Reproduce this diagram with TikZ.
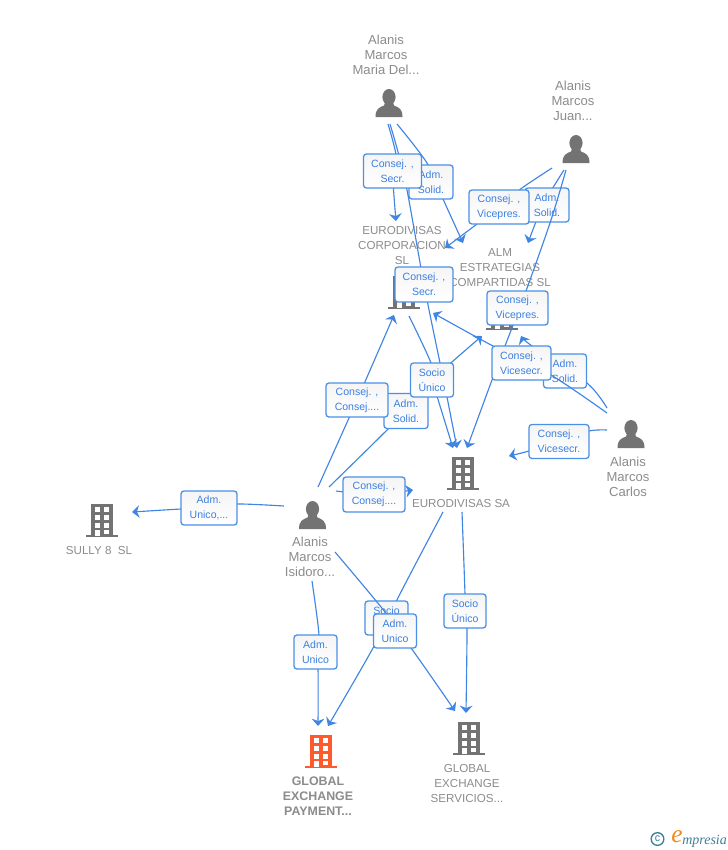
\documentclass[tikz,border=0pt]{standalone}
\usepackage{fontspec}
\setmainfont{Liberation Sans}
\newfontfamily\logofont{Liberation Serif}
\usetikzlibrary{arrows.meta}
\definecolor{edgeblue}{HTML}{3F85E3}
\definecolor{boxblue}{HTML}{4A90E6}
\definecolor{labblue}{HTML}{3B7FE0}
\definecolor{txtgray}{HTML}{8C8C8C}
\definecolor{icongray}{HTML}{737373}
\definecolor{iconorange}{HTML}{FF5A2B}
\definecolor{logoteal}{HTML}{3D7F9A}
\definecolor{logoorange}{HTML}{F08A1D}
\tikzset{
  conn/.style={draw=edgeblue,line width=0.85pt,line join=round},
  tipped/.style={conn,-{Stealth[length=5.5pt,width=9.5pt,inset=1.8pt]}},
  lbl/.style={draw=boxblue,line width=0.95pt,rounded corners=2.2pt,top color=black!4,bottom color=white,
    text=labblue,align=center,font=\fontsize{7.9}{11.25}\selectfont,inner sep=0pt,anchor=center},
  entname/.style={text=txtgray,align=center,font=\fontsize{8.7}{11.25}\selectfont,inner sep=0pt,anchor=center},
  persname/.style={entname,font=\fontsize{9.8}{11.25}\selectfont},
  pics/bld/.style={code={
    \fill[#1] (-16,-2) rectangle (16,0);
    \fill[#1] (-11,-33) rectangle (11,0);
    \foreach \yy in {3,11,19}{
      \fill[white] (-7,-33+\yy) rectangle (-2,-33+\yy+4.5);
      \fill[white] (2,-33+\yy) rectangle (7,-33+\yy+4.5);}
    \fill[white] (-7,-7) rectangle (-2,-1.5);
    \fill[white] (2,-7) rectangle (7,-3);
  }},
  pics/pers/.style={code={
    \fill[icongray] (0,-6) ellipse (6.6 and 8);
    \fill[icongray] (-13.5,14) -- (13.5,14) .. controls (13.5,6) and (10,4.5) .. (5,2.5)
      -- (3.5,-2) -- (-3.5,-2) -- (-5,2.5) .. controls (-10,4.5) and (-13.5,6) .. (-13.5,14) -- cycle;
  }}
}
\begin{document}
\begin{tikzpicture}[x=0.75pt,y=-0.75pt]
\useasboundingbox (0,0) rectangle (728,850);
\fill[white] (0,0) rectangle (728,850);

% building and person icons
\pic at (404,309) {bld=icongray};
\pic at (502,330) {bld=icongray};
\pic at (463,490) {bld=icongray};
\pic at (101.5,537) {bld=icongray};
\pic at (321,768) {bld=iconorange};
\pic at (469,755) {bld=icongray};
\pic at (389,103) {pers};
\pic at (576,149) {pers};
\pic at (312.5,515) {pers};
\pic at (631,434) {pers};

% entity names
\node[persname] (maria) at (386,55) {Alanis\\Marcos\\Maria Del...};
\node[persname] (juan) at (573,101) {Alanis\\Marcos\\Juan...};
\node[entname] (corp) at (402,246) {EURODIVISAS\\CORPORACION\\SL};
\node[entname] (alm) at (500,268) {ALM\\ESTRATEGIAS\\COMPARTIDAS SL};
\node[entname] (sa) at (461,503) {EURODIVISAS SA};
\node[persname] (carlos) at (628,477) {Alanis\\Marcos\\Carlos};
\node[persname] (isidoro) at (310,557) {Alanis\\Marcos\\Isidoro...};
\node[entname] (sully) at (99,550) {SULLY 8\ \ SL};
\node[entname,font=\fontsize{9.3}{11.25}\selectfont\bfseries] (payment) at (318,796) {GLOBAL\\EXCHANGE\\PAYMENT...};
\node[entname] (servicios) at (467,783) {GLOBAL\\EXCHANGE\\SERVICIOS...};

% connector ends
\coordinate (mA) at (388,124);
\coordinate (mB) at (390,124);
\coordinate (mC) at (397,124);
\coordinate (jA) at (552,168);
\coordinate (jB) at (564,170);
\coordinate (jC) at (566,170);
\coordinate (cA) at (607,408);
\coordinate (cB) at (607,413);
\coordinate (cC) at (607,430);
\coordinate (iA) at (318,487);
\coordinate (iB) at (329,487);
\coordinate (iC) at (336,491);
\coordinate (iD) at (284,506);
\coordinate (iE) at (312,581);
\coordinate (iF) at (335,552);
\coordinate (corpS) at (409,316);
\coordinate (saA) at (443,512);
\coordinate (saB) at (462,512);
\coordinate (corpT1) at (396,221);
\coordinate (corpT2) at (445,248);
\coordinate (corpT3) at (433,313);
\coordinate (corpT4) at (394,315);
\coordinate (almT1) at (463,243);
\coordinate (almT2) at (528,243);
\coordinate (almT3) at (521,336);
\coordinate (almT4) at (482,336);
\coordinate (saT1) at (453,448);
\coordinate (saT2) at (457,448);
\coordinate (saT3) at (467,448);
\coordinate (saT4) at (509,456);
\coordinate (saT5) at (413,490);
\coordinate (sullyT) at (132,512);
\coordinate (payT1) at (318,726);
\coordinate (payT2) at (328,726);
\coordinate (servT1) at (455,711);
\coordinate (servT2) at (466,713);

% box centres
\coordinate (b1) at (431,182);
\coordinate (b2) at (547,205);
\coordinate (b3) at (565,371);
\coordinate (b4) at (406,411);
\coordinate (b5) at (392.5,171);
\coordinate (b6) at (424,284.5);
\coordinate (b7) at (499,207);
\coordinate (b8) at (517.5,308);
\coordinate (b9) at (521.5,363);
\coordinate (b10) at (559,441.5);
\coordinate (b11) at (357,400);
\coordinate (b12) at (374,494.5);
\coordinate (b13) at (209,508);
\coordinate (b14) at (315.5,652);
\coordinate (b15) at (386.5,618);
\coordinate (b16) at (395,631);
\coordinate (b17) at (465,611);
\coordinate (b18) at (432,380);

% connectors with their labels, back to front
\draw[tipped] plot[smooth] coordinates {(mC) (427,163) (443,199) (almT1)};
\node[lbl,minimum width=44pt*0.75,minimum height=34pt*0.75] (l1) at (b1) {Adm.\\Solid.};

\draw[tipped] plot[smooth] coordinates {(jB) (543,205) (almT2)};
\node[lbl,minimum width=44pt*0.75,minimum height=34pt*0.75] (l2) at (b2) {Adm.\\Solid.};

\draw[tipped] plot[smooth] coordinates {(cA) (587,383) (532,346) (almT3)};
\node[lbl,minimum width=43pt*0.75,minimum height=34pt*0.75] (l3) at (b3) {Adm.\\Solid.};

\draw[tipped] plot[smooth] coordinates {(iB) (b4) (b18) (almT4)};
\node[lbl,minimum width=44pt*0.75,minimum height=35pt*0.75] (l4) at (b4) {Adm.\\Solid.};

\draw[conn] plot[smooth] coordinates {(mB) (405,180) (b6) (440,363) (447,397)};
\draw[tipped] (447,397) -- (saT2);
\node[lbl,minimum width=58pt*0.75,minimum height=35pt*0.75] (l6) at (b6) {Consej. ,\\Secr.};

\draw[tipped] plot[smooth] coordinates {(mA) (396,155) (b5) (corpT1)};
\node[lbl,minimum width=58pt*0.75,minimum height=34pt*0.75] (l5) at (b5) {Consej. ,\\Secr.};

\draw[tipped] plot[smooth] coordinates {(jA) (522,188) (b7) (477,224) (corpT2)};
\node[lbl,minimum width=60pt*0.75,minimum height=34pt*0.75] (l7) at (b7) {Consej. ,\\Vicepres.};

\draw[tipped] plot[smooth] coordinates {(jC) (551,220) (526,291) (505,346) (492,380) (saT3)};
\node[lbl,minimum width=61pt*0.75,minimum height=34pt*0.75] (l8) at (b8) {Consej. ,\\Vicepres.};

\draw[tipped] plot[smooth] coordinates {(cB) (551,375) (493,346) (corpT3)};
\node[lbl,minimum width=59pt*0.75,minimum height=34pt*0.75] (l9) at (b9) {Consej. ,\\Vicesecr.};

\draw[tipped] plot[smooth] coordinates {(cC) (589,431) (b10) (529,451) (saT4)};
\node[lbl,minimum width=60pt*0.75,minimum height=34pt*0.75] (l10) at (b10) {Consej. ,\\Vicesecr.};

\draw[tipped] plot[smooth] coordinates {(iA) (b11) (corpT4)};
\node[lbl,minimum width=62pt*0.75,minimum height=34pt*0.75] (l11) at (b11) {Consej. ,\\Consej....};

\draw[tipped] plot[smooth] coordinates {(iC) (b12) (saT5)};
\node[lbl,minimum width=62pt*0.75,minimum height=35pt*0.75] (l12) at (b12) {Consej. ,\\Consej....};

\draw[tipped] plot[smooth] coordinates {(iD) (237,504) (b13) (181,509) (sullyT)};
\node[lbl,minimum width=56pt*0.75,minimum height=34pt*0.75] (l13) at (b13) {Adm.\\Unico,...};

\draw[tipped] plot[smooth] coordinates {(iE) (319,635) (b14) (318,669) (payT1)};
\node[lbl,minimum width=43pt*0.75,minimum height=34pt*0.75] (l14) at (b14) {Adm.\\Unico};

\draw[tipped] plot[smooth] coordinates {(saA) (402,590) (373,648) (payT2)};
\node[lbl,minimum width=43pt*0.75,minimum height=34pt*0.75] (l15) at (b15) {Socio\\Único};

\draw[tipped] plot[smooth] coordinates {(iF) (385,612) (b16) (411,648) (servT1)};
\node[lbl,minimum width=43pt*0.75,minimum height=34pt*0.75] (l16) at (b16) {Adm.\\Unico};

\draw[tipped] plot[smooth] coordinates {(saB) (465,594) (b17) (467,628) (servT2)};
\node[lbl,minimum width=42pt*0.75,minimum height=34pt*0.75] (l17) at (b17) {Socio\\Único};

\draw[conn] plot[smooth] coordinates {(corpS) (431,363) (b18)};
\draw[tipped] (b18) -- (saT1);
\node[lbl,minimum width=43pt*0.75,minimum height=34pt*0.75] (l18) at (b18) {Socio\\Único};

% logo
\node[draw=logoteal,line width=1pt,circle,minimum size=9.5pt,inner sep=0pt,text=logoteal,font=\fontsize{8}{8}\selectfont] (copy) at (657.5,839) {c};
\node[text=logoorange,font=\logofont\itshape\fontsize{19}{19}\selectfont,inner sep=0pt] (loge) at (677,837) {e};
\node[text=logoteal,font=\logofont\itshape\fontsize{10.5}{10}\selectfont,inner sep=0pt,anchor=west] (logt) at (682,841) {mpresia};
\end{tikzpicture}
\end{document}
